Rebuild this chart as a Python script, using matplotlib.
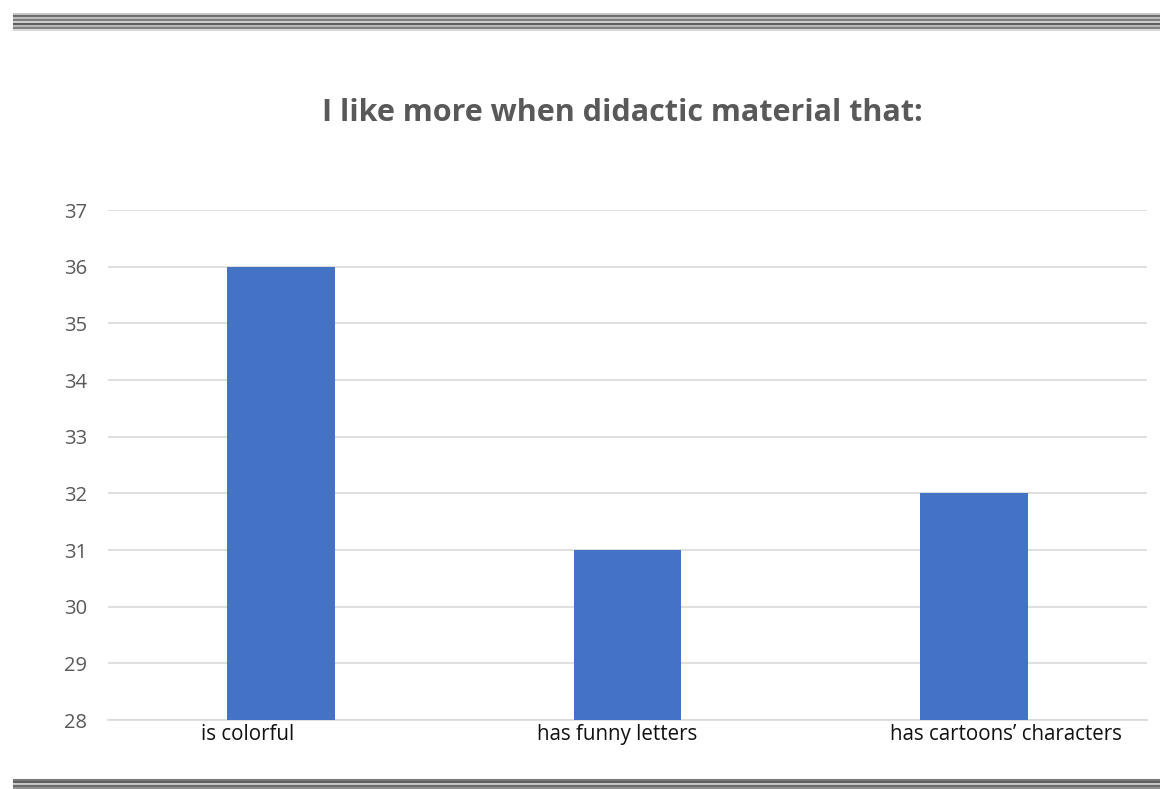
import matplotlib.pyplot as plt
from matplotlib.lines import Line2D
from matplotlib.transforms import ScaledTranslation

categories = ["is colorful", "has funny letters", "has cartoons\u2019 characters"]
values = [36, 31, 32]
y_ticks = [28, 29, 30, 31, 32, 33, 34, 35, 36, 37]

W, H = 1160, 789
fig = plt.figure(figsize=(W / 100, H / 100), dpi=100)
plt.rcParams["font.family"] = ["Open Sans", "DejaVu Sans"]

ax = fig.add_axes([108 / W, 1 - 720 / H, (1147 - 108) / W, (720 - 210) / H])
x = range(len(categories))
ax.bar(x, [v - 28 for v in values], bottom=28, width=0.31, color="#4472c4", zorder=3)
ax.set_xlim(-0.5, 2.5)
ax.set_ylim(28, 37)
ax.set_yticks(y_ticks)
ax.set_yticklabels([str(t) for t in y_ticks], color="#595959", fontsize=14.5)
ax.set_xticks(list(x))
ax.set_xticklabels(categories, color="#111111", fontsize=14.8)
ax.tick_params(length=0)
ax.tick_params(axis="y", pad=15)
ax.tick_params(axis="x", pad=3)
# the original labels sit a little off-centre from their bars
for lbl, dx in zip(ax.get_xticklabels(), [-34, -10, 32]):
    lbl.set_transform(lbl.get_transform() + ScaledTranslation(dx / 100, 0, fig.dpi_scale_trans))
ax.grid(axis="y", color="#d9d9d9", lw=1.2, zorder=0)
for s in ["top", "right", "left"]:
    ax.spines[s].set_visible(False)
ax.spines["bottom"].set_color("#d9d9d9")
ax.spines["bottom"].set_linewidth(1.2)

fig.text(622 / W, 1 - 113 / H, "I like more when didactic material that:",
         ha="center", va="center", fontsize=22, fontweight="bold", color="#595959")

# striped border bands
top_stripes = ["#c8c8c8", "#6a6a6a", "#bdbdbd", "#7a7a7a", "#d0d0d0", "#5e5e5e", "#b8b8b8", "#808080", "#d8d8d8"]
for i, c in enumerate(top_stripes):
    y = 1 - (13.5 + i * 2) / H
    fig.add_artist(Line2D([14 / W, 1], [y, y], color=c, lw=1.5, transform=fig.transFigure))
bot_stripes = ["#7a7a7a", "#5e5e5e", "#c8c8c8", "#6a6a6a", "#909090"]
for i, c in enumerate(bot_stripes):
    y = 1 - (779.5 + i * 2) / H
    fig.add_artist(Line2D([14 / W, 1], [y, y], color=c, lw=1.5, transform=fig.transFigure))

fig.savefig("out.png", dpi=100)
